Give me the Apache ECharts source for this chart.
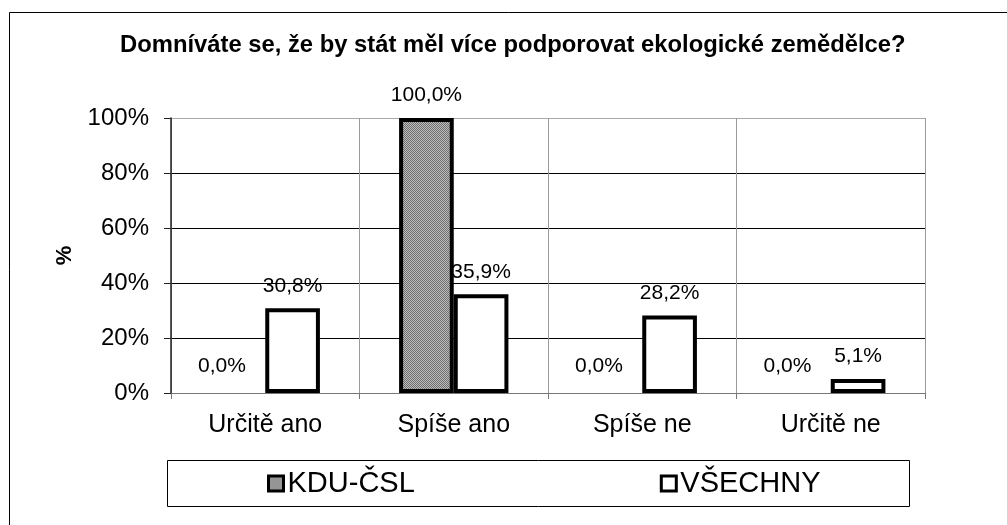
<!DOCTYPE html>
<html><head><meta charset="utf-8">
<script src="https://cdn.jsdelivr.net/npm/echarts@6/dist/echarts.min.js"></script>
<style>html,body{margin:0;padding:0;background:#fff}#c{width:1007px;height:525px}</style>
</head><body><div id="c"></div>
<script>
const categories = ['Určitě ano', 'Spíše ano', 'Spíše ne', 'Určitě ne'];
const kduValues = [0.0, 100.0, 0.0, 0.0];
const vsechnyValues = [30.8, 35.9, 28.2, 5.1];
const seriesNames = ['KDU-ČSL', 'VŠECHNY'];
const yTicks = [0, 20, 40, 60, 80, 100];
const titleText = 'Domníváte se, že by stát měl více podporovat ekologické zemědělce?';

const FONT = 'Liberation Sans';
// dotted gray pattern
const pc = document.createElement('canvas');
pc.width = 2; pc.height = 2;
const pctx = pc.getContext('2d');
pctx.fillStyle = '#bdbdbd'; pctx.fillRect(0,0,2,2);
pctx.fillStyle = '#6e6e6e'; pctx.fillRect(0,0,1,1); pctx.fillRect(1,1,1,1);

const fmt = v => v.toFixed(1).replace('.', ',') + '%';
const toData = arr => arr.map(v => v === 0
  ? {value: v, itemStyle: {borderWidth: 0, opacity: 0}, label: {offset: [-16, -4], opacity: 1}}
  : {value: v});

const chart = echarts.init(document.getElementById('c'), null, {renderer: 'canvas'});
const labelStyle = {show: true, position: 'top', distance: 12, formatter: p => fmt(p.value), fontFamily: FONT, fontSize: 21, color: '#000'};
chart.setOption({
  animation: false,
  backgroundColor: '#fff',
  title: {text: titleText, left: 120, top: 33, padding: 0,
    textStyle: {fontFamily: FONT, fontWeight: 'bold', fontSize: 23.8, color: '#000'}},
  graphic: [
    {type: 'rect', shape: {x: 9.5, y: 12.5, width: 1200, height: 800}, style: {fill: null, stroke: '#000', lineWidth: 1}, z: -1},
    {type: 'rect', shape: {x: 167.5, y: 460.5, width: 742, height: 46}, style: {fill: null, stroke: '#000', lineWidth: 1}}
  ],
  legend: {
    data: seriesNames.map(n => ({name: n, icon: 'rect'})), left: 267, top: 469, itemGap: 245, itemWidth: 15, itemHeight: 15, padding: 0,
    itemStyle: {borderWidth: 3, borderColor: '#000'},
    textStyle: {fontFamily: FONT, fontSize: 29, color: '#000', padding: [0,0,0,-1]}
  },
  grid: {left: 171, right: 82, top: 118, bottom: 132, containLabel: false},
  xAxis: {
    type: 'category', data: categories,
    axisLine: {show: true, lineStyle: {color: '#777', width: 1}},
    axisTick: {show: true, length: 6, lineStyle: {color: '#777'}},
    splitLine: {show: true, lineStyle: {color: '#999', width: 1}},
    axisLabel: {fontFamily: FONT, fontSize: 25, color: '#000', margin: 20}
  },
  yAxis: {
    type: 'value', min: 0, max: 100, interval: 20,
    name: '%', nameLocation: 'middle', nameGap: 95, nameRotate: 90,
    nameTextStyle: {fontFamily: FONT, fontWeight: 'bold', fontSize: 22, color: '#000'},
    axisLine: {show: true, lineStyle: {color: '#222', width: 1.5}},
    axisTick: {show: true, inside: false, length: 7, lineStyle: {color: '#222'}},
    splitLine: {show: true, lineStyle: {color: ['#000','#000','#000','#000','#000','#aaa'], width: 1}},
    axisLabel: {fontFamily: FONT, fontSize: 24, color: '#000', margin: 22, formatter: v => yTicks.includes(v) ? v + '%' : ''}
  },
  series: [
    {name: seriesNames[0], type: 'bar', data: toData(kduValues), barGap: '0%', barCategoryGap: '42%',
     itemStyle: {color: {image: pc, repeat: 'repeat'}, borderColor: '#000', borderWidth: 4},
     label: labelStyle},
    {name: seriesNames[1], type: 'bar', data: toData(vsechnyValues),
     itemStyle: {color: '#fff', borderColor: '#000', borderWidth: 4},
     label: labelStyle}
  ]
});
</script></body></html>
